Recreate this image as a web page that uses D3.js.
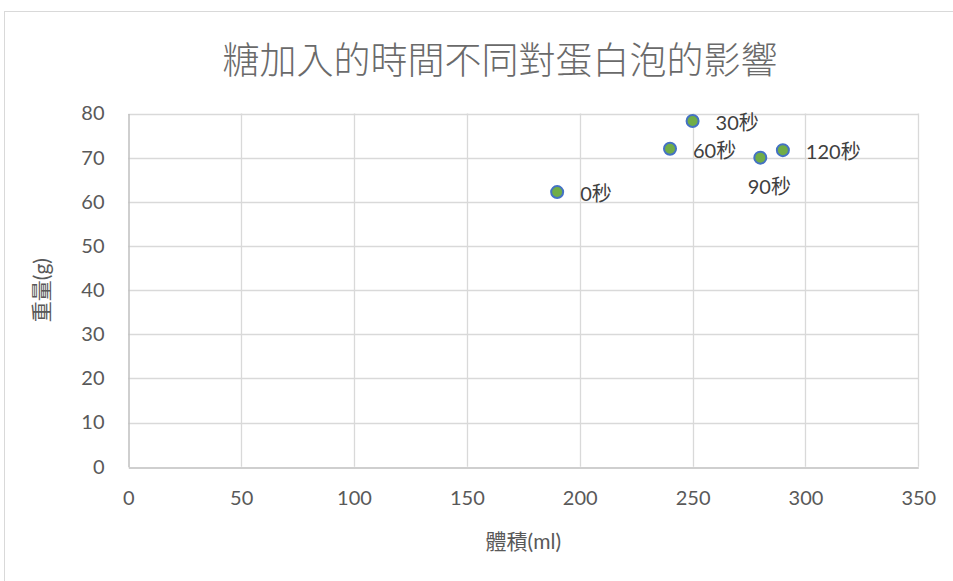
<!DOCTYPE html>
<html>
<head>
<meta charset="utf-8">
<script src="https://cdn.jsdelivr.net/npm/d3@7"></script>
<style>
  html, body { margin: 0; padding: 0; background: #fff; }
  svg text { font-family: "Lato", "Noto Sans CJK TC", sans-serif; }
</style>
</head>
<body>
<svg id="chart" width="953" height="581"></svg>
<script>
// Volume (ml) and weight (g) of meringue by the time sugar is added
const labels  = ["0秒", "30秒", "60秒", "90秒", "120秒"];
const volume  = [190, 250, 240, 280, 290];
const weight  = [62.2, 78.3, 72.0, 70.0, 71.7];
const labelPos = ["right", "right", "right", "below", "right"];

const xTicks = [0, 50, 100, 150, 200, 250, 300, 350];
const yTicks = [0, 10, 20, 30, 40, 50, 60, 70, 80];

const title  = "糖加入的時間不同對蛋白泡的影響";
const xTitle = "體積(ml)";
const yTitle = "重量(g)";

const svg = d3.select("#chart");
const plot = { left: 128.3, right: 918.3, top: 113.5, bottom: 466.7 };

const x = d3.scaleLinear().domain([0, 350]).range([plot.left, plot.right]);
const y = d3.scaleLinear().domain([0, 80]).range([plot.bottom, plot.top]);

// chart frame
svg.append("rect")
  .attr("x", 4.5).attr("y", 11.5)
  .attr("width", 1000).attr("height", 1000)
  .attr("fill", "#fff").attr("stroke", "#d9d9d9").attr("stroke-width", 1);

// title
svg.append("text")
  .attr("x", 500).attr("y", 58)
  .attr("text-anchor", "middle").attr("dominant-baseline", "central")
  .attr("font-size", 37).attr("fill", "#6a6a6a")
  .style("font-family", "'Noto Sans CJK TC', sans-serif")
  .style("font-weight", 300)
  .text(title);

// gridlines
const g = svg.append("g");
g.selectAll("line.h").data(yTicks.slice(1)).join("line")
  .attr("x1", plot.left).attr("x2", plot.right)
  .attr("y1", d => Math.round(y(d)) + 0.5).attr("y2", d => Math.round(y(d)) + 0.5)
  .attr("stroke", "#d9d9d9").attr("stroke-width", 1.3);
g.selectAll("line.v").data(xTicks.slice(1)).join("line")
  .attr("y1", plot.top).attr("y2", plot.bottom)
  .attr("x1", d => Math.round(x(d)) + 0.5).attr("x2", d => Math.round(x(d)) + 0.5)
  .attr("stroke", "#d9d9d9").attr("stroke-width", 1.3);

// axes
const xAxis = svg.append("g")
  .attr("transform", `translate(0,${Math.round(plot.bottom) + 0.5})`)
  .call(d3.axisBottom(x).tickValues(xTicks).tickSize(0).tickPadding(23));
const yAxis = svg.append("g")
  .attr("transform", `translate(${Math.round(plot.left) + 0.5},0)`)
  .call(d3.axisLeft(y).tickValues(yTicks).tickSize(0).tickPadding(24));
[xAxis, yAxis].forEach(a => {
  a.select(".domain").attr("stroke", "#bfbfbf").attr("stroke-width", 1.5);
  a.selectAll("text").attr("font-size", 20).attr("fill", "#595959")
    .style("font-family", "'Lato', sans-serif");
});

// axis titles
svg.append("text")
  .attr("x", (plot.left + plot.right) / 2).attr("y", 540)
  .attr("text-anchor", "middle").attr("dominant-baseline", "central")
  .attr("font-size", 21).attr("fill", "#595959")
  .text(xTitle);
svg.append("text")
  .attr("transform", `translate(40,${(plot.top + plot.bottom) / 2}) rotate(-90)`)
  .attr("text-anchor", "middle").attr("dominant-baseline", "central")
  .attr("font-size", 21).attr("fill", "#595959")
  .text(yTitle);

// points
const pts = volume.map((v, i) => ({ v, w: weight[i], label: labels[i], pos: labelPos[i] }));
svg.append("g").selectAll("circle").data(pts).join("circle")
  .attr("cx", d => x(d.v)).attr("cy", d => y(d.w)).attr("r", 6)
  .attr("fill", "#70ad47").attr("stroke", "#4472c4").attr("stroke-width", 2);

// data labels
svg.append("g").selectAll("text").data(pts).join("text")
  .attr("x", d => d.pos === "below" ? x(d.v) + 9 : x(d.v) + 23)
  .attr("y", d => d.pos === "below" ? y(d.w) + 28 : y(d.w) + 1)
  .attr("text-anchor", d => d.pos === "below" ? "middle" : "start")
  .attr("dominant-baseline", "central")
  .attr("font-size", 20).attr("fill", "#404040")
  .text(d => d.label);
</script>
</body>
</html>
